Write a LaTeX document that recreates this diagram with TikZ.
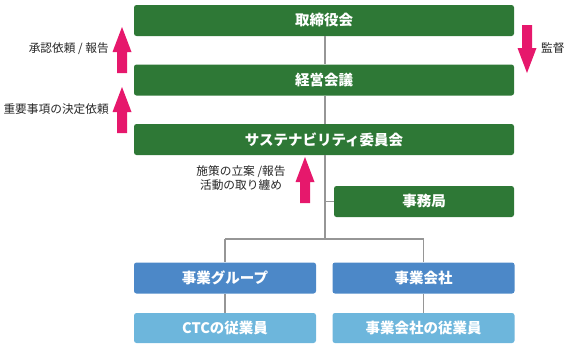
\documentclass[tikz,border=0pt]{standalone}
\usepackage{fontspec}
\setmainfont{Noto Sans CJK JP}
\usetikzlibrary{arrows.meta}
\definecolor{boxgreen}{RGB}{46,120,54}
\definecolor{boxblue}{RGB}{76,136,200}
\definecolor{boxlight}{RGB}{109,182,220}
\definecolor{arrowpink}{RGB}{230,24,108}
\definecolor{linegray}{RGB}{150,150,150}
\tikzset{
  orgbox/.style={rounded corners=2.5pt, minimum height=31pt, inner sep=0pt, text=white, font=\fontsize{14.5}{16}\selectfont\bfseries},
  greenbox/.style={orgbox, fill=boxgreen, minimum width=380pt},
  bluebox/.style={orgbox, fill=boxblue, minimum width=182pt},
  lightbox/.style={orgbox, fill=boxlight, minimum width=182pt, minimum height=30pt},
  smallbox/.style={orgbox, fill=boxgreen, minimum width=180pt},
  conn/.style={draw=linegray, line width=1.4pt},
  bigarrow/.style={draw=none, fill=arrowpink},
  lbl/.style={font=\fontsize{11.7}{14}\selectfont, text=black!85, inner sep=0pt}
}
\begin{document}
\begin{tikzpicture}[x=1pt,y=-1pt]
\useasboundingbox (0,0) rectangle (567,348);
\node[greenbox] (tori) at (324,20.5) {取締役会};
\node[greenbox] (keiei) at (324,80) {経営会議};
\node[greenbox] (sust) at (324,139.5) {サステナビリティ委員会};
\node[smallbox] (jimu) at (424,201.5) {事務局};
\node[bluebox] (group) at (225,278) {事業グループ};
\node[bluebox] (kaisha) at (423.5,278) {事業会社};
\node[lightbox] (ctc) at (225,328) {CTCの従業員};
\node[lightbox] (kjugyo) at (423.5,328) {事業会社の従業員};
\coordinate (spine) at (325,239);
\coordinate (jb) at (325,201.5);
\draw[conn] (tori.south -| spine) -- (keiei.north -| spine);
\draw[conn] (keiei.south -| spine) -- (sust.north -| spine);
\draw[conn] (sust.south -| spine) -- (spine);
\draw[conn] (jb) -- (jimu.west);
\draw[conn] (group.north |- spine) -- (kaisha.north |- spine);
\draw[conn] (group.north |- spine) -- (group.north);
\draw[conn] (kaisha.north |- spine) -- (kaisha.north);
\draw[conn] (group.south) -- (ctc.north);
\draw[conn] (kaisha.south) -- (kjugyo.north);
% arrows
\coordinate (a1) at (122,27);
\coordinate (a2) at (122,87);
\coordinate (a3) at (305,157);
\coordinate (d1) at (527,73);
\fill[bigarrow] (a1) -- ++(9.5,25) -- ++(-4.5,0) -- ++(0,21) -- ++(-10,0) -- ++(0,-21) -- ++(-4.5,0) -- cycle;
\fill[bigarrow] (a2) -- ++(9.5,25) -- ++(-4.5,0) -- ++(0,21) -- ++(-10,0) -- ++(0,-21) -- ++(-4.5,0) -- cycle;
\fill[bigarrow] (a3) -- ++(9.5,25) -- ++(-4.5,0) -- ++(0,21) -- ++(-10,0) -- ++(0,-21) -- ++(-4.5,0) -- cycle;
\fill[bigarrow] (d1) -- ++(9.5,-25) -- ++(-4.5,0) -- ++(0,-23) -- ++(-10,0) -- ++(0,23) -- ++(-4.5,0) -- cycle;
% labels
\node[lbl, anchor=east] (l1) at (109,49) {承認依頼 / 報告};
\node[lbl, anchor=east] (l2) at (109,109) {重要事項の決定依頼};
\node[lbl, align=center] (l3) at (241,178.5) {施策の立案 /報告\\活動の取り纏め};
\node[lbl, anchor=west] (l4) at (541,48) {監督};
\end{tikzpicture}
\end{document}
